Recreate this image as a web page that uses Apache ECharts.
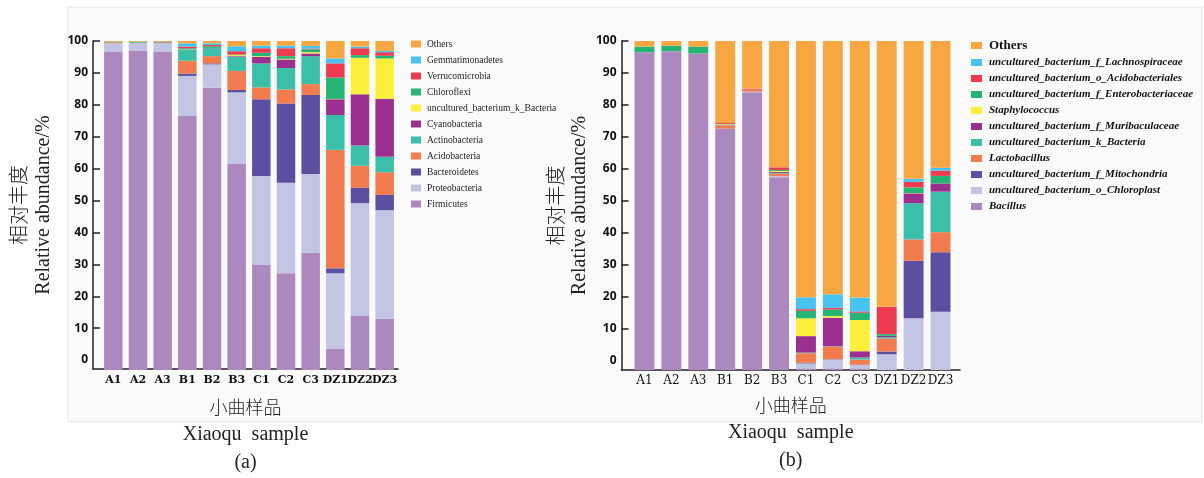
<!DOCTYPE html>
<html>
<head>
<meta charset="utf-8">
<script src="https://cdn.jsdelivr.net/npm/echarts@6/dist/echarts.min.js"></script>
<style>html,body{margin:0;padding:0;background:#fff;}#c{width:1204px;height:478px;}</style>
</head>
<body>
<div id="c"></div>
<script>
// ---------- data ----------
const samples = ['A1','A2','A3','B1','B2','B3','C1','C2','C3','DZ1','DZ2','DZ3'];

// (a) phylum level, bottom -> top
const phylaNames = ['Firmicutes','Proteobacteria','Bacteroidetes','Acidobacteria','Actinobacteria','Cyanobacteria','uncultured_bacterium_k_Bacteria','Chloroflexi','Verrucomicrobia','Gemmatimonadetes','Others'];
const a_Firmicutes       = [96.8, 97.1, 96.8, 77.2, 85.8, 62.8, 31.9, 29.4, 35.7, 6.4, 16.4, 15.5];
const a_Proteobacteria   = [2.5, 2.4, 2.6, 12.2, 7.1, 21.6, 27.1, 27.5, 23.9, 23.0, 34.3, 33.1];
const a_Bacteroidetes    = [0, 0, 0, 0.7, 0.3, 0.7, 23.3, 24.1, 24.0, 1.5, 4.7, 4.6];
const a_Acidobacteria    = [0.3, 0, 0, 3.9, 2.2, 5.8, 3.6, 4.3, 3.3, 36.0, 6.7, 6.9];
const a_Actinobacteria   = [0, 0, 0, 3.3, 2.4, 4.3, 7.3, 6.5, 8.5, 10.6, 6.1, 4.7];
const a_Cyanobacteria    = [0, 0, 0, 0.1, 0.1, 0.2, 2.0, 2.6, 0.8, 4.8, 15.6, 17.6];
const a_kBacteria        = [0, 0, 0, 0.1, 0, 0.3, 0.2, 0.2, 0.4, 0.1, 11.1, 12.3];
const a_Chloroflexi      = [0.2, 0.3, 0.2, 0.3, 0.5, 0.2, 1.0, 0.8, 0.9, 6.5, 0.8, 0.8];
const a_Verrucomicrobia  = [0, 0, 0.2, 0.5, 0.4, 1.0, 1.4, 2.4, 0.2, 4.3, 2.1, 1.1];
const a_Gemmatimonadetes = [0, 0, 0, 1.0, 0.5, 1.5, 0.8, 0.8, 0.8, 1.5, 0.5, 0.4];
const a_Others           = [0.2, 0.2, 0.2, 0.7, 0.7, 1.6, 1.4, 1.4, 1.5, 5.3, 1.7, 3.0];

// (b) genus level, bottom -> top
const generaNames = ['Bacillus','uncultured_bacterium_o_Chloroplast','uncultured_bacterium_f_Mitochondria','Lactobacillus','uncultured_bacterium_k_Bacteria','uncultured_bacterium_f_Muribaculaceae','Staphylococcus','uncultured_bacterium_f_Enterobacteriaceae','uncultured_bacterium_o_Acidobacteriales','uncultured_bacterium_f_Lachnospiraceae','Others'];
const b_Bacillus           = [96.6, 96.9, 96.2, 73.4, 84.4, 58.6, 0.5, 0.5, 0.5, 0, 0, 0];
const b_Chloroplast        = [0, 0, 0, 0, 0.2, 0.3, 1.5, 2.7, 1.0, 4.8, 15.7, 17.7];
const b_Mitochondria       = [0, 0, 0, 0, 0, 0, 0.2, 0.1, 0.1, 0.8, 17.5, 18.1];
const b_Lactobacillus      = [0, 0, 0, 0.9, 0.6, 0.8, 2.9, 3.8, 1.6, 4.0, 6.5, 6.1];
const b_kBacteria          = [0, 0, 0, 0.1, 0, 0.2, 0.2, 0.1, 0.6, 0.4, 11.0, 12.3];
const b_Muribaculaceae     = [0, 0, 0, 0.1, 0.1, 0.3, 5.0, 8.7, 1.9, 0.4, 3.0, 2.5];
const b_Staphylococcus     = [0, 0, 0, 0.2, 0, 0.3, 5.4, 0.5, 9.5, 0, 0.1, 0];
const b_Enterobacteriaceae = [1.7, 1.7, 2.1, 0.1, 0, 0.3, 2.3, 2.0, 2.2, 0.5, 1.7, 2.3];
const b_Acidobacteriales   = [0, 0, 0, 0.3, 0.2, 0.8, 0.5, 0.5, 0.4, 8.3, 1.7, 1.6];
const b_Lachnospiraceae    = [0, 0, 0, 0, 0, 0, 3.6, 4.1, 4.2, 0, 0.9, 0.9];
const b_Others             = [1.7, 1.4, 1.7, 24.9, 14.5, 38.4, 77.9, 77.0, 78.0, 80.8, 41.9, 38.5];

const yTickValues = [0,10,20,30,40,50,60,70,80,90,100];

// ---------- styling ----------
const colors = ['#ad88be','#c1c5e3','#5c4fa1','#f27b4f','#3cbfa8','#9b2f8f','#fcee3b','#24b574','#ee3b50','#46c3f1','#f7a642'];
const aData = [a_Firmicutes,a_Proteobacteria,a_Bacteroidetes,a_Acidobacteria,a_Actinobacteria,a_Cyanobacteria,a_kBacteria,a_Chloroflexi,a_Verrucomicrobia,a_Gemmatimonadetes,a_Others];
const bData = [b_Bacillus,b_Chloroplast,b_Mitochondria,b_Lactobacillus,b_kBacteria,b_Muribaculaceae,b_Staphylococcus,b_Enterobacteriaceae,b_Acidobacteriales,b_Lachnospiraceae,b_Others];

const axisLineStyle = {color:'#222', width:1.5};
const series = [];
phylaNames.forEach((n,i)=>series.push({type:'bar', name:n, stack:'a', xAxisIndex:0, yAxisIndex:0,
  data:aData[i], barCategoryGap:'25%', itemStyle:{color:colors[i]}}));
generaNames.forEach((n,i)=>series.push({type:'bar', name:n, stack:'b', xAxisIndex:2, yAxisIndex:2,
  data:bData[i], barCategoryGap:'26%', itemStyle:{color:colors[i]}}));

function frameY(gap){
  return {
    type:'value', min:-2.8, max:100,
    axisLine:{show:true, lineStyle:axisLineStyle},
    axisTick:{show:true, inside:true, length:7, lineStyle:axisLineStyle, customValues:yTickValues.slice(1)},
    axisLabel:{customValues:yTickValues, margin:5, fontFamily:'Open Sans', fontWeight:'bold', fontSize:12, color:'#111'},
    splitLine:{show:false},
    name:'{cn|相对丰度}\n{en|Relative abundance/%}', nameLocation:'middle', nameGap:gap,
    nameTextStyle:{rich:{
      cn:{fontFamily:'Noto Sans CJK SC', fontSize:20, lineHeight:25, color:'#222', fontWeight:300},
      en:{fontFamily:'Liberation Serif', fontSize:20, lineHeight:25, color:'#222'}
    }}
  };
}
function frameX(label, gap){
  return {
    type:'value', min:0, max:1,
    axisLine:{show:true, onZero:false, lineStyle:axisLineStyle},
    axisTick:{show:false}, axisLabel:{show:false}, splitLine:{show:false},
    name:'{cn|小曲样品}\n{en|Xiaoqu  sample}\n{en|'+label+'}', nameLocation:'middle', nameGap:gap,
    nameTextStyle:{rich:{
      cn:{fontFamily:'Noto Sans CJK SC', fontSize:18, lineHeight:28, color:'#222', fontWeight:300},
      en:{fontFamily:'Liberation Serif', fontSize:20, lineHeight:28, color:'#222'}
    }}
  };
}

const legendA = phylaNames.slice().reverse().map(n=>({name:n, itemStyle:{color:colors[phylaNames.indexOf(n)]}}));
const legendB = generaNames.slice().reverse().map(n=>({name:n, itemStyle:{color:colors[generaNames.indexOf(n)]}}));

const option = {
  animation:false,
  backgroundColor:'#ffffff',
  graphic:[{type:'rect', z:-10, silent:true, shape:{x:68,y:7,width:1134,height:415}, style:{fill:'#fafafa', stroke:'#e6e6e6', lineWidth:1}}],
  grid:[
    {left:101, top:41, width:296, height:329},
    {left:93, top:41, width:305, height:329},
    {left:631, top:41, width:323, height:329},
    {left:621.5, top:41, width:338.5, height:329}
  ],
  xAxis:[
    {gridIndex:0, type:'category', data:samples, axisLine:{show:false}, axisTick:{show:false},
     axisLabel:{interval:0, margin:5, fontFamily:'DejaVu Serif', fontWeight:'bold', fontSize:11, color:'#111'}},
    Object.assign({gridIndex:1}, frameX('(a)', 24)),
    {gridIndex:2, type:'category', data:samples, axisLine:{show:false}, axisTick:{show:false},
     axisLabel:{interval:0, margin:5, fontFamily:'DejaVu Serif', fontSize:12, color:'#111'}},
    Object.assign({gridIndex:3}, frameX('(b)', 21))
  ],
  yAxis:[
    {gridIndex:0, type:'value', min:0, max:100, show:false},
    Object.assign({gridIndex:1}, frameY(37)),
    {gridIndex:2, type:'value', min:0, max:100, show:false},
    Object.assign({gridIndex:3}, frameY(29))
  ],
  legend:[
    {orient:'vertical', left:406, top:33, itemWidth:10, itemHeight:7, itemGap:4, selectedMode:false, icon:'rect',
     data:legendA,
     textStyle:{fontFamily:'Liberation Serif', fontSize:9.5, lineHeight:12, color:'#222', padding:[0,0,0,1]}},
    {orient:'vertical', left:966, top:34, itemWidth:11, itemHeight:7, itemGap:5, selectedMode:false, icon:'rect',
     data:legendB,
     formatter:n=> n==='Others' ? '{o|Others}' : '{i|'+n+'}',
     textStyle:{color:'#111', padding:[0,0,0,2], rich:{
       o:{fontFamily:'Liberation Serif', fontWeight:'bold', fontSize:13, lineHeight:13, color:'#111'},
       i:{fontFamily:'Liberation Serif', fontWeight:'bold', fontStyle:'italic', fontSize:11, lineHeight:13, color:'#111'}
     }}}
  ],
  series:series
};
const chart = echarts.init(document.getElementById('c'), null, {renderer:'canvas'});
chart.setOption(option);
</script>
</body>
</html>
